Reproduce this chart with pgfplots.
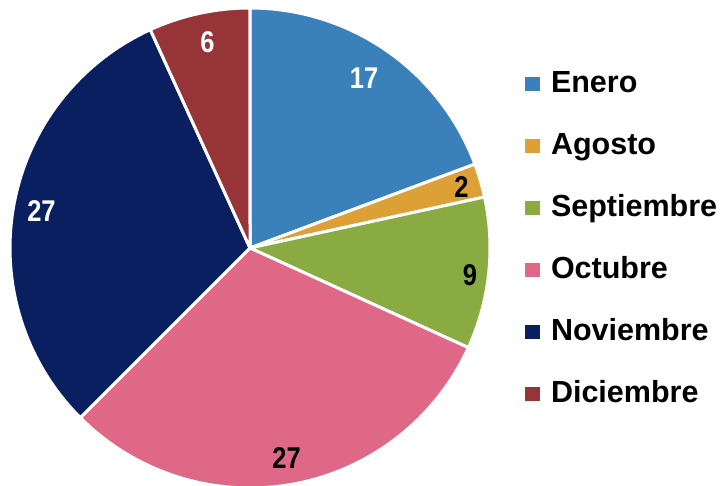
\documentclass[border=0pt]{standalone}
\usepackage{pgfplots}
\pgfplotsset{compat=1.18}
\usepackage{graphicx}
\usepackage{fontspec}
\setmainfont{Liberation Sans}
\definecolor{cEne}{HTML}{3A80BA}
\definecolor{cAgo}{HTML}{DDA037}
\definecolor{cSep}{HTML}{8AAA42}
\definecolor{cOct}{HTML}{E06887}
\definecolor{cNov}{HTML}{0A1F5F}
\definecolor{cDic}{HTML}{963438}
% values: Enero 17, Agosto 2, Septiembre 9, Octubre 27, Noviembre 27, Diciembre 6 (total 88)
\def\tot{88}
\newcommand{\sector}[3]{% color, start cumulative, end cumulative
  \addplot[fill=#1, draw=white, line width=3pt, line join=round, domain={90-360*(#3)/\tot}:{90-360*(#2)/\tot}, samples=80]
    ({250+240*cos(x)},{238+240*sin(x)}) -- (axis cs:250,238) -- cycle;
}
\newcommand{\numfont}{\fontsize{30}{32}\selectfont\bfseries}
\begin{document}
\begin{tikzpicture}
\begin{axis}[
  x=1pt, y=1pt,
  xmin=0, xmax=722, ymin=0, ymax=486,
  hide axis, clip=false,
  legend style={at={(axis cs:525,246)}, anchor=west, draw=none, fill=none,
    font=\fontsize{30.5}{32}\selectfont\bfseries, inner sep=0pt, outer sep=0pt,
    row sep=34pt, column sep=11pt,
    nodes={text height=22pt, text depth=6pt, inner sep=0pt}},
  legend cell align=left,
  legend image code/.code={\fill[#1, draw=none] (0pt,-6pt) rectangle (15pt,8pt);},
]
\sector{cEne}{0}{17}
\addlegendentry{Enero}
\sector{cAgo}{17}{19}
\addlegendentry{Agosto}
\sector{cSep}{19}{28}
\addlegendentry{Septiembre}
\sector{cOct}{28}{55}
\addlegendentry{Octubre}
\sector{cNov}{55}{82}
\addlegendentry{Noviembre}
\sector{cDic}{82}{88}
\addlegendentry{Diciembre}
\node[inner sep=0pt, text=white] at (axis cs:364,408) {\numfont\scalebox{0.85}[1]{17}};
\node[inner sep=0pt, text=black] at (axis cs:461.5,299) {\numfont\scalebox{0.85}[1]{2}};
\node[inner sep=0pt, text=black] at (axis cs:470,211) {\numfont\scalebox{0.85}[1]{9}};
\node[inner sep=0pt, text=black] at (axis cs:286.5,28) {\numfont\scalebox{0.85}[1]{27}};
\node[inner sep=0pt, text=white] at (axis cs:41.5,275) {\numfont\scalebox{0.85}[1]{27}};
\node[inner sep=0pt, text=white] at (axis cs:207.5,443.5) {\numfont\scalebox{0.85}[1]{6}};
\end{axis}
\pgfresetboundingbox
\path[use as bounding box] (current axis.south west) rectangle (current axis.north east);
\end{tikzpicture}
\end{document}
